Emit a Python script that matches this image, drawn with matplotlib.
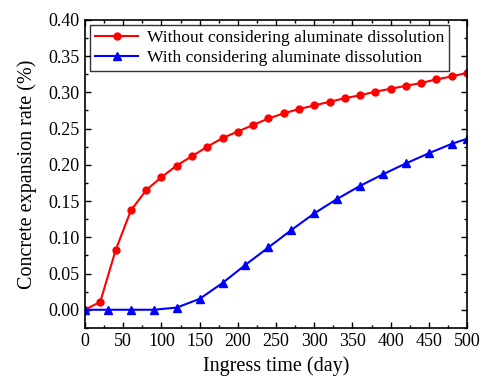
import matplotlib
matplotlib.use("Agg")
import matplotlib.pyplot as plt
from matplotlib.ticker import MultipleLocator

plt.rcParams['font.family'] = ['Liberation Serif', 'DejaVu Serif']

days_red = [0, 20, 40, 60, 80, 100, 120, 140, 160, 180, 200, 220, 240, 260,
            280, 300, 320, 340, 360, 380, 400, 420, 440, 460, 480, 500]
without_dissolution = [0.000, 0.011, 0.082, 0.137, 0.165, 0.183, 0.199, 0.212,
                       0.225, 0.237, 0.246, 0.255, 0.264, 0.271, 0.277, 0.282,
                       0.287, 0.292, 0.296, 0.301, 0.305, 0.309, 0.313, 0.318,
                       0.322, 0.327]

days_blue = [0, 30, 60, 90, 120, 150, 180, 210, 240, 270, 300, 330, 360, 390,
             420, 450, 480, 500]
with_dissolution = [0.000, 0.000, 0.000, 0.000, 0.003, 0.015, 0.037, 0.062,
                    0.086, 0.110, 0.133, 0.153, 0.171, 0.187, 0.202, 0.216,
                    0.229, 0.236]

yticks = [0.0, 0.05, 0.10, 0.15, 0.20, 0.25, 0.30, 0.35, 0.40]

fig = plt.figure(figsize=(4.83, 3.76), dpi=100)
ax = fig.add_axes([0.176, 0.128, 0.791, 0.819])

ax.plot(days_red, without_dissolution, color='red', marker='o', markersize=5,
        linewidth=1.5, label='Without considering aluminate dissolution')
ax.plot(days_blue, with_dissolution, color='blue', marker='^', markersize=5.5,
        linewidth=1.5, label='With considering aluminate dissolution')

ax.set_xlim(0, 500)
ax.set_ylim(-0.025, 0.40)
ax.xaxis.set_major_locator(MultipleLocator(50))
ax.xaxis.set_minor_locator(MultipleLocator(25))
ax.yaxis.set_minor_locator(MultipleLocator(0.025))
ax.set_yticks(yticks)
ax.set_yticklabels([f'{v:.2f}' for v in yticks])
ax.tick_params(which='both', direction='in', top=True, right=True, labelsize=13)
ax.tick_params(which='major', length=4, width=1, pad=4)
ax.tick_params(which='minor', length=2.5, width=1)
for s in ax.spines.values():
    s.set_linewidth(1.2)

ax.set_xlabel('Ingress time (day)', fontsize=14.5, labelpad=4)
ax.set_ylabel('Concrete expansion rate (%)', fontsize=14.5, labelpad=8)

leg = ax.legend(loc='upper left', fontsize=12.6, frameon=True, fancybox=False,
                edgecolor='black', handlelength=2.5, borderpad=0.25,
                labelspacing=0.25, borderaxespad=0.3, handletextpad=0.5)
leg.get_frame().set_linewidth(1.0)

plt.savefig('out.png', dpi=100)
